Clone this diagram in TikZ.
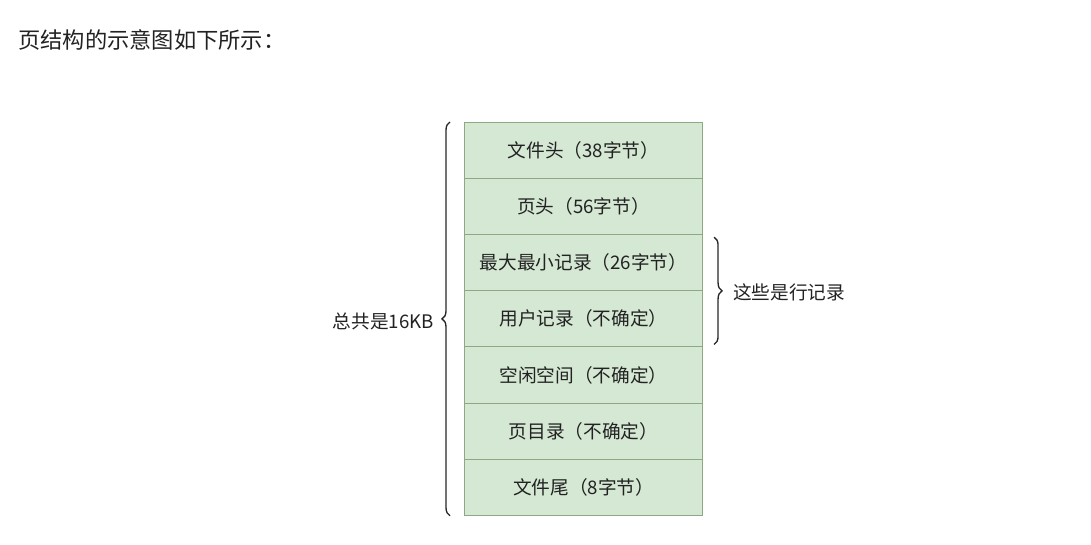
\documentclass[tikz,border=0pt]{standalone}
\usepackage{fontspec}
\setmainfont{Noto Sans CJK SC}
\usetikzlibrary{decorations.pathreplacing,calc,positioning}
\definecolor{boxfill}{HTML}{D5E8D4}
\definecolor{boxline}{HTML}{8DA883}
\definecolor{txt}{HTML}{222222}
\begin{document}
\begin{tikzpicture}[x=0.75pt,y=-0.75pt,
  cell/.style={draw=boxline,fill=boxfill,line width=0.8pt,minimum width=238*0.75pt,minimum height=56.1*0.75pt,inner sep=0pt,font=\fontsize{14pt}{16pt}\selectfont,text=txt,anchor=north west},
  bracestyle/.style={draw=black!85,line width=1pt,decorate,decoration={brace,amplitude=6pt}},
  lbl/.style={font=\fontsize{14pt}{16pt}\selectfont,text=txt,inner sep=0pt}]
\useasboundingbox (0,0) rectangle (1091,545);
\node[font=\fontsize{16.7pt}{18pt}\selectfont,text=txt,anchor=west,inner sep=0pt] (title) at (18,40) {页结构的示意图如下所示：};
\node[cell] (r1) at (464,122) {文件头（38字节）};
\node[cell] (r2) at (464,178.1) {页头（56字节）};
\node[cell] (r3) at (464,234.2) {最大最小记录（26字节）};
\node[cell] (r4) at (464,290.3) {用户记录（不确定）};
\node[cell] (r5) at (464,346.4) {空闲空间（不确定）};
\node[cell] (r6) at (464,402.5) {页目录（不确定）};
\node[cell] (r7) at (464,458.6) {文件尾（8字节）};
\coordinate (lb1) at ($(r7.south west)+(-14,0)$);
\coordinate (lb2) at ($(r1.north west)+(-14,0)$);
\draw[bracestyle] (lb1) -- (lb2);
\node[lbl,anchor=east] (total) at (434,321) {总共是16KB};
\coordinate (rb1) at ($(r3.north east)+(11,3)$);
\coordinate (rb2) at ($(r4.south east)+(11,-3)$);
\draw[bracestyle] (rb1) -- (rb2);
\node[lbl,anchor=west] (rows) at (733,292) {这些是行记录};
\end{tikzpicture}
\end{document}
